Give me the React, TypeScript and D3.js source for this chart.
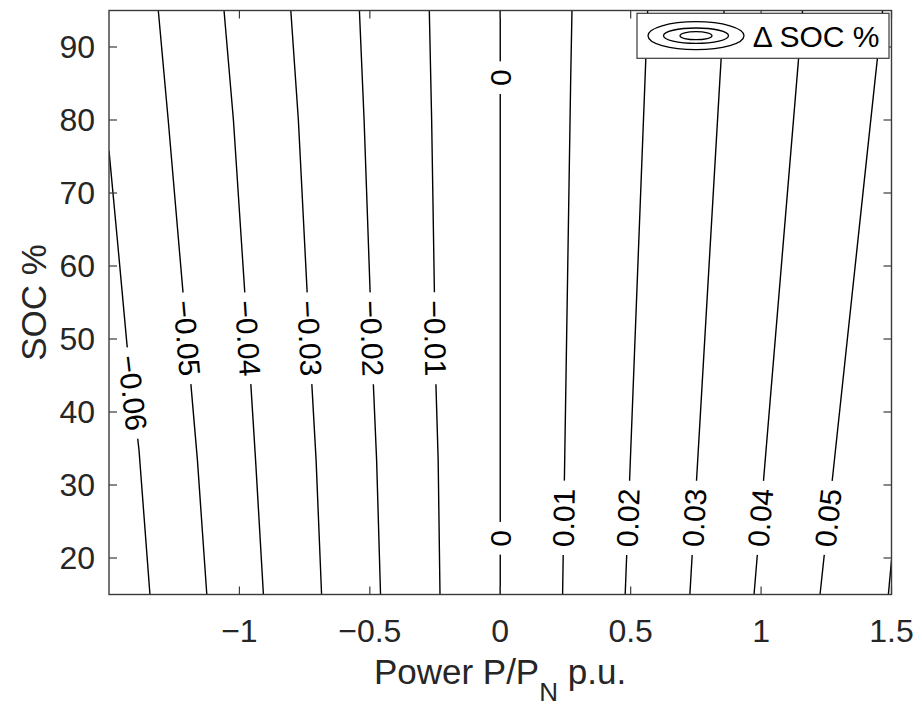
import React from 'react';
import * as d3 from 'd3';

const W = 922;
const H = 707;
const xDomain: [number, number] = [-1.5, 1.5];
const yDomain: [number, number] = [15, 95];
const xTicks = [-1, -0.5, 0, 0.5, 1, 1.5];
const yTicks = [20, 30, 40, 50, 60, 70, 80, 90];

// contour lines, points as [P (p.u.), SOC (%)]
const lineM06: [number, number][] = [[-1.5, 75.8], [-1.468, 63.6], [-1.431, 49.2], [-1.385, 34.8], [-1.343, 15]];
const lineM05: [number, number][] = [[-1.311, 95], [-1.273, 80], [-1.187, 44.2], [-1.161, 33.4], [-1.125, 15]];
const lineM04: [number, number][] = [[-1.059, 95], [-1.023, 80], [-0.957, 44.2], [-0.938, 33.4], [-0.908, 15]];
const lineM03: [number, number][] = [[-0.803, 95], [-0.774, 80], [-0.723, 44.2], [-0.706, 33.4], [-0.685, 15]];
const lineM02: [number, number][] = [[-0.54, 95], [-0.522, 80], [-0.487, 44.2], [-0.474, 33.4], [-0.459, 15]];
const lineM01: [number, number][] = [[-0.272, 95], [-0.263, 80], [-0.247, 44.2], [-0.238, 33.4], [-0.231, 15]];
const lineP00: [number, number][] = [[0, 95], [0, 15]];
const lineP01: [number, number][] = [[0.275, 95], [0.27, 85.5], [0.239, 15]];
const lineP02: [number, number][] = [[0.565, 95], [0.555, 85.5], [0.479, 15]];
const lineP03: [number, number][] = [[0.858, 95], [0.842, 85.5], [0.727, 15]];
const lineP04: [number, number][] = [[1.159, 95], [1.137, 85.5], [0.973, 15]];
const lineP05: [number, number][] = [[1.466, 95], [1.437, 85.5], [1.226, 15]];
const lineP06: [number, number][] = [[1.5, 19.7], [1.488, 15]];

const contourLevels = [-0.06, -0.05, -0.04, -0.03, -0.02, -0.01, 0, 0.01, 0.02, 0.03, 0.04, 0.05, 0.06];
const contourLines = [lineM06, lineM05, lineM04, lineM03, lineM02, lineM01, lineP00, lineP01, lineP02, lineP03, lineP04, lineP05, lineP06];

// label placements: contour index and SOC where the label sits
const labelLevelIndex = [0, 1, 2, 3, 4, 5, 6, 6, 7, 8, 9, 10, 11];
const labelSoc = [42.6, 50.1, 50.1, 50.1, 50.1, 50.1, 85.8, 22.7, 25.5, 25.5, 25.5, 25.5, 25.5];

const FONT = '"Liberation Sans", Arial, Helvetica, sans-serif';
const FS = 30;
const TICK_FS = 32;
const LABEL_FS = 35;

const fmt = (v: number) => {
  const s = String(Math.abs(v));
  return v < 0 ? '\u2212' + s : s;
};

const charW = (c: string) => (c === '.' ? 0.278 : c === '\u2212' ? 0.584 : 0.556);
const textLen = (s: string, fs: number) => s.split('').reduce((a, c) => a + charW(c) * fs, 0);

export default function App() {
  const left = 109, right = 891.5, top = 10.5, bottom = 594.5;
  const x = d3.scaleLinear().domain(xDomain).range([left, right]);
  const y = d3.scaleLinear().domain(yDomain).range([bottom, top]);
  const line = d3.line<[number, number]>().x(d => x(d[0])).y(d => y(d[1]));
  const axisColor = '#3a3a3a';
  const tickLen = 8;

  const labels = labelLevelIndex.map((li, k) => {
    const pts = contourLines[li];
    const soc = labelSoc[k];
    let p = pts[0][0];
    let seg = [pts[0], pts[pts.length - 1]];
    for (let i = 0; i < pts.length - 1; i++) {
      const a = pts[i], b = pts[i + 1];
      const lo = Math.min(a[1], b[1]), hi = Math.max(a[1], b[1]);
      if (soc >= lo && soc <= hi) {
        const t = (soc - a[1]) / (b[1] - a[1]);
        p = a[0] + t * (b[0] - a[0]);
        seg = [a, b];
        break;
      }
    }
    let dx = x(seg[1][0]) - x(seg[0][0]);
    let dy = y(seg[1][1]) - y(seg[0][1]);
    if (dx < 0 || (dx === 0 && dy > 0)) { dx = -dx; dy = -dy; }
    const ang = (Math.atan2(dy, dx) * 180) / Math.PI;
    const txt = fmt(contourLevels[li]);
    return { cx: x(p), cy: y(soc), ang, txt, len: textLen(txt, FS) };
  });

  return (
    <svg width={W} height={H} style={{ position: 'absolute', left: 0, top: 0, background: '#fff' }} fontFamily={FONT}>
      <defs>
        <clipPath id="plotclip">
          <rect x={left} y={top} width={right - left} height={bottom - top} />
        </clipPath>
      </defs>
      <rect x={0} y={0} width={W} height={H} fill="#fff" />
      <g clipPath="url(#plotclip)">
        {contourLines.map((pts, i) => (
          <path key={i} d={line(pts) || ''} fill="none" stroke="#000" strokeWidth={1.4} />
        ))}
        {labels.map((l, i) => (
          <g key={i} transform={`translate(${l.cx},${l.cy}) rotate(${l.ang})`}>
            <rect x={-l.len / 2 - 8} y={-13} width={l.len + 16} height={26} fill="#fff" />
            <text x={0} y={0} textAnchor="middle" dominantBaseline="central" fontSize={FS} fill="#000">{l.txt}</text>
          </g>
        ))}
      </g>
      {/* ticks */}
      {xTicks.map(t => (
        <g key={'xt' + t}>
          <line x1={x(t)} x2={x(t)} y1={bottom} y2={bottom - tickLen} stroke={axisColor} strokeWidth={1.2} />
          <line x1={x(t)} x2={x(t)} y1={top} y2={top + tickLen} stroke={axisColor} strokeWidth={1.2} />
          <text x={x(t)} y={642} textAnchor="middle" fontSize={TICK_FS} fill="#262626">{fmt(t)}</text>
        </g>
      ))}
      {yTicks.map(t => (
        <g key={'yt' + t}>
          <line x1={left} x2={left + tickLen} y1={y(t)} y2={y(t)} stroke={axisColor} strokeWidth={1.2} />
          <line x1={right} x2={right - tickLen} y1={y(t)} y2={y(t)} stroke={axisColor} strokeWidth={1.2} />
          <text x={95} y={y(t)} textAnchor="end" dominantBaseline="central" fontSize={TICK_FS} fill="#262626">{t}</text>
        </g>
      ))}
      <rect x={left} y={top} width={right - left} height={bottom - top} fill="none" stroke={axisColor} strokeWidth={1.4} />
      {/* legend */}
      <g>
        <rect x={637} y={13.3} width={252} height={45} fill="#fff" stroke={axisColor} strokeWidth={1.2} />
        <ellipse cx={696} cy={35.7} rx={48} ry={14} fill="none" stroke="#000" strokeWidth={1.3} />
        <ellipse cx={696} cy={35.7} rx={32.5} ry={7.7} fill="none" stroke="#000" strokeWidth={1.3} />
        <ellipse cx={696} cy={35.7} rx={16} ry={4} fill="none" stroke="#000" strokeWidth={1.3} />
        <text x={752.7} y={46.5} fontSize={FS} fill="#000">{'\u0394 SOC %'}</text>
      </g>
      {/* axis labels */}
      <text x={500} y={684} textAnchor="middle" fontSize={LABEL_FS} fill="#262626">
        Power P/P<tspan dy={17} fontSize={26}>N</tspan><tspan dy={-17}> p.u.</tspan>
      </text>
      <text transform={`translate(46,${(top + bottom) / 2}) rotate(-90)`} textAnchor="middle" fontSize={LABEL_FS} fill="#262626">SOC %</text>
    </svg>
  );
}
